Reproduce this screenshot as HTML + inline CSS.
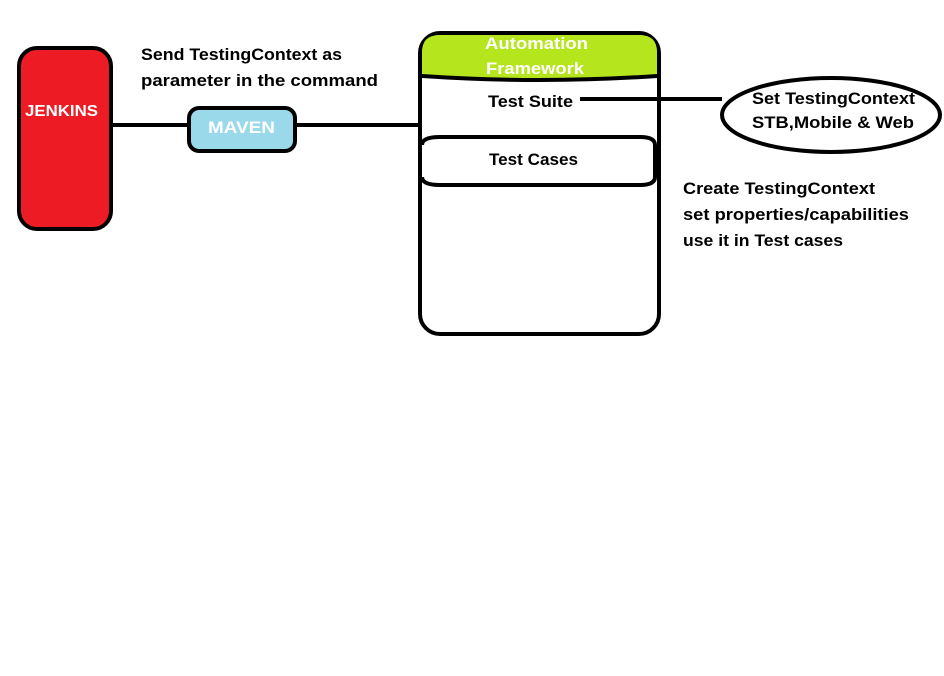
<!DOCTYPE html>
<html><head><style>body{margin:0;background:#fff}svg{display:block}text{font-family:"Liberation Sans",sans-serif;font-weight:bold}</style></head>
<body>
<svg width="944" height="676" viewBox="0 0 944 676" xmlns="http://www.w3.org/2000/svg">
<rect width="944" height="676" fill="#fff"/>
<line x1="110" y1="125" x2="190" y2="125" stroke="#000" stroke-width="4"/>
<line x1="295" y1="125" x2="421" y2="125" stroke="#000" stroke-width="4"/>
<rect x="19" y="48" width="92" height="181" rx="18" fill="#ed1c24" stroke="#000" stroke-width="4"/>
<text x="25" y="116" fill="#fff" font-size="16" textLength="73" lengthAdjust="spacingAndGlyphs">JENKINS</text>
<rect x="189" y="108" width="106" height="43" rx="10" fill="#99d9ea" stroke="#000" stroke-width="4"/>
<text x="208" y="133" fill="#fff" font-size="17" textLength="67" lengthAdjust="spacingAndGlyphs">MAVEN</text>
<text x="141" y="60" font-size="17" textLength="201" lengthAdjust="spacingAndGlyphs">Send TestingContext as</text>
<text x="141" y="86" font-size="17" textLength="237" lengthAdjust="spacingAndGlyphs">parameter in the command</text>
<rect x="420" y="33" width="239" height="301" rx="20" fill="#fff" stroke="#000" stroke-width="4"/>
<path d="M422,76 L422,52 Q422,35 440,35 L639,35 Q657,35 657,52 L657,76 Q540,82 422,76 Z" fill="#b5e61d"/>
<path d="M422,76 Q540,84 657,76" fill="none" stroke="#000" stroke-width="4"/>
<text x="485" y="49" fill="#fff" font-size="17" textLength="103" lengthAdjust="spacingAndGlyphs">Automation</text>
<text x="486" y="74" fill="#fff" font-size="17" textLength="98" lengthAdjust="spacingAndGlyphs">Framework</text>
<text x="488" y="107" font-size="17" textLength="85" lengthAdjust="spacingAndGlyphs">Test Suite</text>
<path d="M422,145 Q422,137 440,137 L640,137 Q655,137 655,145 L655,177 Q655,185 640,185 L440,185 Q422,185 422,177" fill="none" stroke="#000" stroke-width="4"/>
<text x="489" y="165" font-size="17" textLength="89" lengthAdjust="spacingAndGlyphs">Test Cases</text>
<line x1="580" y1="99" x2="722" y2="99" stroke="#000" stroke-width="4"/>
<ellipse cx="831" cy="115" rx="109" ry="37" fill="#fff" stroke="#000" stroke-width="4"/>
<text x="752" y="104" font-size="17" textLength="163" lengthAdjust="spacingAndGlyphs">Set TestingContext</text>
<text x="752" y="128" font-size="17" textLength="162" lengthAdjust="spacingAndGlyphs">STB,Mobile &amp; Web</text>
<text x="683" y="194" font-size="17" textLength="192" lengthAdjust="spacingAndGlyphs">Create TestingContext</text>
<text x="683" y="220" font-size="17" textLength="226" lengthAdjust="spacingAndGlyphs">set properties/capabilities</text>
<text x="683" y="246" font-size="17" textLength="160" lengthAdjust="spacingAndGlyphs">use it in Test cases</text>
</svg>
</body></html>
